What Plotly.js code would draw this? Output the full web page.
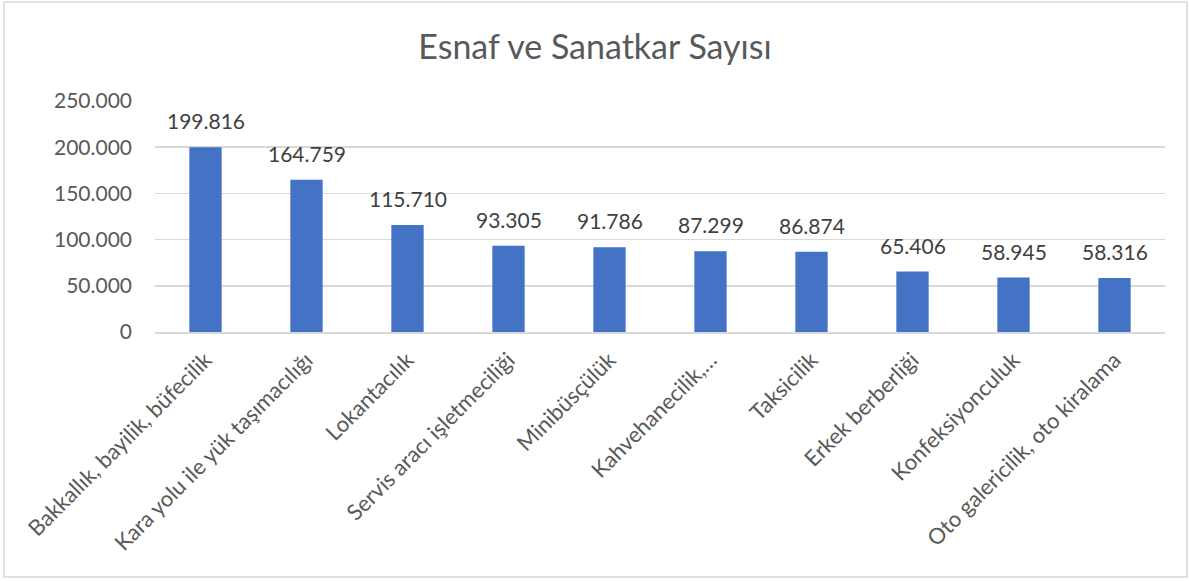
<!DOCTYPE html>
<html>
<head>
<meta charset="utf-8">
<script src="https://cdn.plot.ly/plotly-3.0.1.min.js"></script>
<style>
html,body{margin:0;padding:0;background:#fff;}
#chart{width:1190px;height:581px;}
</style>
</head>
<body>
<div id="chart"></div>
<script>
var categories = [
  "Bakkallık, bayilik, büfecilik",
  "Kara yolu ile yük taşımacılığı",
  "Lokantacılık",
  "Servis aracı işletmeciliği",
  "Minibüsçülük",
  "Kahvehanecilik,…",
  "Taksicilik",
  "Erkek berberliği",
  "Konfeksiyonculuk",
  "Oto galericilik, oto kiralama"
];
var values = [199816, 164759, 115710, 93305, 91786, 87299, 86874, 65406, 58945, 58316];
var tickVals = [0, 50000, 100000, 150000, 200000, 250000];
var tickText = ["0", "50.000", "100.000", "150.000", "200.000", "250.000"];
var chartTitle = "Esnaf ve Sanatkar Sayısı";

var FONT = "Lato, 'Open Sans', sans-serif";

function fmt(v) {
  return String(v).replace(/\B(?=(\d{3})+(?!\d))/g, ".");
}

var trace = {
  type: "bar",
  x: categories,
  y: values,
  marker: {color: "#4472C4"},
  hoverinfo: "x+y"
};

var labels = categories.map(function (c, i) {
  return {
    x: c, y: values[i], xref: "x", yref: "y",
    text: fmt(values[i]),
    showarrow: false,
    yanchor: "bottom",
    yshift: 12,
    font: {family: FONT, size: 21, color: "#404040"}
  };
});

var L = 155, R = 25, T = 101, B = 249, W = 1190, H = 581;
var pw = W - L - R, ph = H - T - B;

var layout = {
  width: W, height: H,
  margin: {l: L, r: R, t: T, b: B, pad: 0},
  paper_bgcolor: "#ffffff",
  plot_bgcolor: "#ffffff",
  separators: ",.",
  font: {family: FONT, color: "#595959"},
  title: {
    text: chartTitle,
    font: {family: FONT, size: 34, color: "#595959"},
    x: 0.5, xanchor: "center",
    y: 1 - 47 / H, yanchor: "middle", yref: "container"
  },
  bargap: 0.68,
  showlegend: false,
  annotations: labels,
  xaxis: {
    type: "category",
    tickangle: -45,
    tickfont: {family: FONT, size: 22, color: "#595959"},
    showgrid: false,
    showline: true,
    linecolor: "#d9d9d9",
    linewidth: 1.5,
    ticks: "",
    ticklabelstandoff: 5,
    automargin: false
  },
  yaxis: {
    range: [0, 250000],
    tickvals: tickVals,
    ticktext: tickText,
    tickfont: {family: FONT, size: 21, color: "#595959"},
    showgrid: true,
    gridcolor: "#d9d9d9",
    gridwidth: 1.5,
    zeroline: false,
    showline: false,
    ticks: "",
    ticklabelstandoff: 22,
    automargin: false
  },
  shapes: [{
    type: "rect",
    xref: "paper", yref: "paper",
    x0: (4 - L) / pw, x1: (1187 - L) / pw,
    y0: (H - B - 577) / ph, y1: (H - B - 2) / ph,
    line: {color: "#d9d9d9", width: 1.5},
    fillcolor: "rgba(0,0,0,0)",
    layer: "below"
  }]
};

Plotly.newPlot("chart", [trace], layout, {displayModeBar: false, staticPlot: true});
</script>
</body>
</html>
